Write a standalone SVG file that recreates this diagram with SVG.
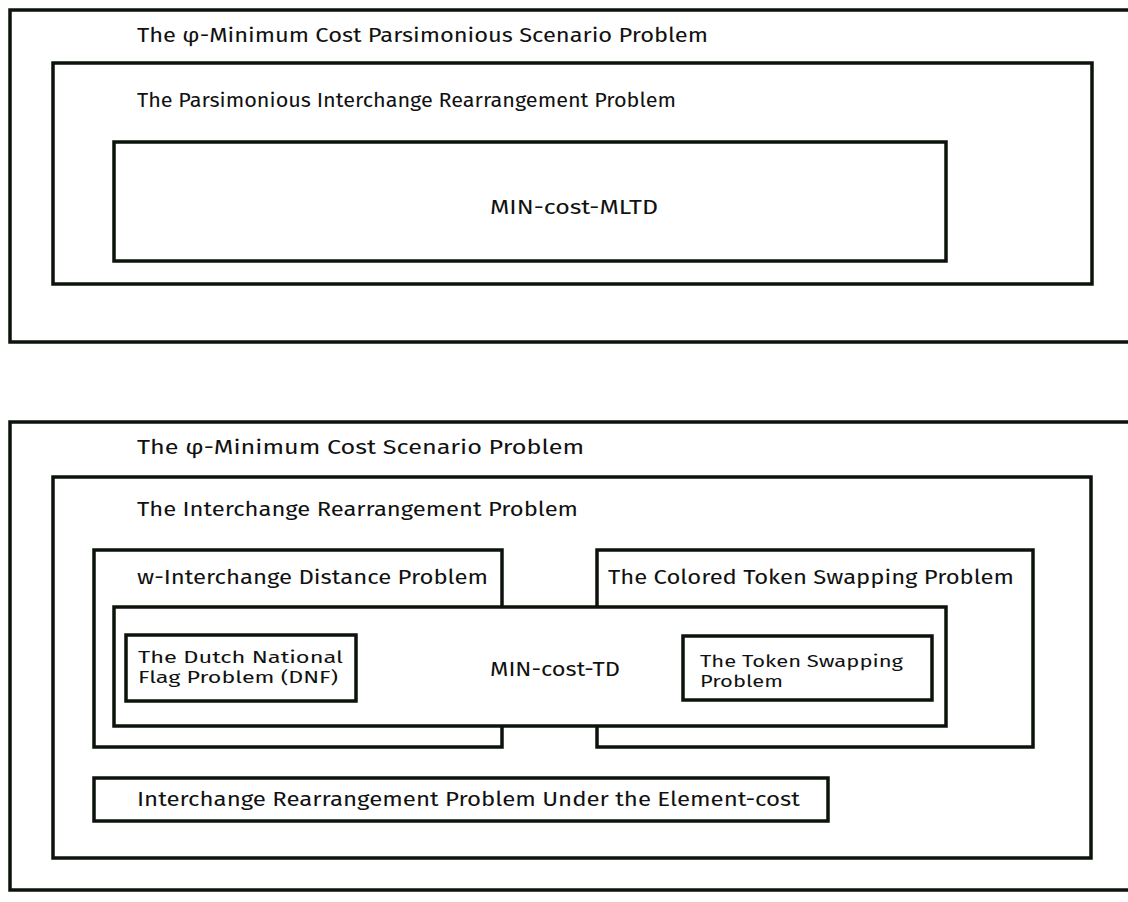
<svg xmlns="http://www.w3.org/2000/svg" width="1128" height="902" viewBox="0 0 1128 902">
<style>
rect.b{fill:#fff;stroke:#0b130b;stroke-width:3.5}
text{font-family:"Fira Sans","Open Sans","Noto Sans",sans-serif;font-size:20px;fill:#111}
text.s{font-size:17px}
</style>
<rect width="1128" height="902" fill="#fff"/>
<g id="phi-mcps">
<rect class="b" x="10" y="10" width="1130" height="332"/>
<text x="137" y="42" textLength="571" lengthAdjust="spacingAndGlyphs">The φ-Minimum Cost Parsimonious Scenario Problem</text>
</g>
<g id="pirp">
<rect class="b" x="53" y="63" width="1039" height="221"/>
<text x="137" y="107" textLength="539" lengthAdjust="spacingAndGlyphs">The Parsimonious Interchange Rearrangement Problem</text>
</g>
<g id="mltd">
<rect class="b" x="114" y="142" width="832" height="119"/>
<text x="574" y="214" text-anchor="middle" textLength="168" lengthAdjust="spacingAndGlyphs">MIN-cost-MLTD</text>
</g>
<g id="phi-mcs">
<rect class="b" x="10" y="422" width="1130" height="468"/>
<text x="137" y="454" textLength="447" lengthAdjust="spacingAndGlyphs">The φ-Minimum Cost Scenario Problem</text>
</g>
<g id="irp">
<rect class="b" x="53" y="477" width="1038" height="381"/>
<text x="137" y="516" textLength="441" lengthAdjust="spacingAndGlyphs">The Interchange Rearrangement Problem</text>
</g>
<g id="wid">
<rect class="b" x="94" y="550" width="408" height="197"/>
<text x="137" y="584" textLength="351" lengthAdjust="spacingAndGlyphs">w-Interchange Distance Problem</text>
</g>
<g id="cts">
<rect class="b" x="597" y="550" width="436" height="197"/>
<text x="608" y="584" textLength="406" lengthAdjust="spacingAndGlyphs">The Colored Token Swapping Problem</text>
</g>
<g id="td">
<rect class="b" x="114" y="607" width="832" height="119"/>
<text x="555" y="676" text-anchor="middle" textLength="130" lengthAdjust="spacingAndGlyphs">MIN-cost-TD</text>
</g>
<g id="dnf">
<rect class="b" x="126" y="635" width="230" height="66"/>
<text class="s" x="138" y="663" textLength="205" lengthAdjust="spacingAndGlyphs">The Dutch National</text>
<text class="s" x="138" y="683" textLength="200" lengthAdjust="spacingAndGlyphs">Flag Problem (DNF)</text>
</g>
<g id="ts">
<rect class="b" x="683" y="636" width="249" height="64"/>
<text class="s" x="700" y="667" textLength="203" lengthAdjust="spacingAndGlyphs">The Token Swapping</text>
<text class="s" x="700" y="687" textLength="83" lengthAdjust="spacingAndGlyphs">Problem</text>
</g>
<g id="irpec">
<rect class="b" x="94" y="778" width="734" height="43"/>
<text x="137" y="806" textLength="663" lengthAdjust="spacingAndGlyphs">Interchange Rearrangement Problem Under the Element-cost</text>
</g>
<g id="connectors"/>
</svg>
